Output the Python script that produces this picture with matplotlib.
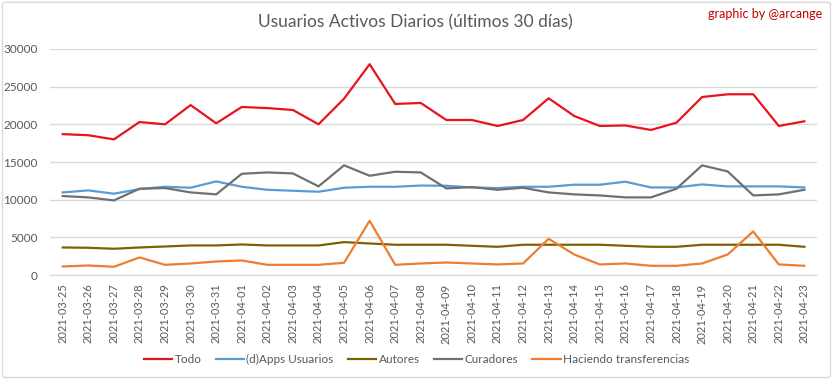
import matplotlib.pyplot as plt
from matplotlib.patches import FancyBboxPatch

# Datos
fechas = ["2021-03-25", "2021-03-26", "2021-03-27", "2021-03-28", "2021-03-29",
          "2021-03-30", "2021-03-31", "2021-04-01", "2021-04-02", "2021-04-03",
          "2021-04-04", "2021-04-05", "2021-04-06", "2021-04-07", "2021-04-08",
          "2021-04-09", "2021-04-10", "2021-04-11", "2021-04-12", "2021-04-13",
          "2021-04-14", "2021-04-15", "2021-04-16", "2021-04-17", "2021-04-18",
          "2021-04-19", "2021-04-20", "2021-04-21", "2021-04-22", "2021-04-23"]

todo = [18700, 18550, 18000, 20300, 20000, 22550, 20130, 22300, 22150, 21900,
        20000, 23400, 27970, 22700, 22830, 20570, 20570, 19780, 20570, 23450,
        21100, 19780, 19850, 19250, 20220, 23620, 23980, 23980, 19780, 20400]

dapps = [10970, 11240, 10800, 11410, 11720, 11590, 12430, 11720, 11320, 11190,
         11060, 11590, 11720, 11720, 11880, 11850, 11630, 11540, 11720, 11720,
         11990, 11990, 12390, 11630, 11630, 12030, 11770, 11770, 11770, 11630]

autores = [3670, 3630, 3500, 3670, 3800, 3940, 3940, 4070, 3940, 3940,
           3940, 4380, 4200, 4030, 4030, 4030, 3890, 3760, 4030, 4030,
           4030, 4030, 3890, 3760, 3760, 4030, 4030, 4030, 4030, 3760]

curadores = [10490, 10310, 9910, 11460, 11550, 10970, 10710, 13440, 13620, 13490,
             11770, 14560, 13180, 13710, 13620, 11500, 11680, 11320, 11590, 10970,
             10710, 10570, 10310, 10310, 11460, 14560, 13750, 10570, 10710, 11320]

transferencias = [1150, 1280, 1110, 2350, 1370, 1550, 1810, 1950, 1370, 1370,
                  1370, 1640, 7210, 1370, 1550, 1680, 1550, 1420, 1550, 4820,
                  2740, 1420, 1550, 1240, 1240, 1550, 2740, 5800, 1420, 1240]

series = [
    ("Todo", todo, "#e8141b"),
    ("(d)Apps Usuarios", dapps, "#5b9bd5"),
    ("Autores", autores, "#7f6000"),
    ("Curadores", curadores, "#707070"),
    ("Haciendo transferencias", transferencias, "#ed7d31"),
]

plt.rcParams['font.family'] = ['Lato', 'DejaVu Sans']
gris = "#595959"

fig = plt.figure(figsize=(8.33, 3.79), dpi=100)
ax = fig.add_axes([0.060, 0.274, 0.921, 0.597])

x = range(len(fechas))
for nombre, valores, color in series:
    ax.plot(x, valores, color=color, linewidth=1.6, label=nombre)

ax.set_xlim(-0.5, len(fechas) - 0.5)
ax.set_ylim(0, 30000)
ax.set_yticks(range(0, 30001, 5000))
ax.set_xticks(list(x))
ax.set_xticklabels(fechas, rotation=90, fontsize=8, color=gris)
ax.tick_params(axis='y', labelsize=8.5, labelcolor=gris, length=0, pad=9)
ax.tick_params(axis='x', length=0, pad=6)
ax.grid(axis='y', color="#d9d9d9", linewidth=1)
ax.set_axisbelow(True)
for s in ["top", "right", "left"]:
    ax.spines[s].set_visible(False)
ax.spines["bottom"].set_color("#d9d9d9")

fig.text(0.499, 0.94, "Usuarios Activos Diarios (últimos 30 días)",
         ha="center", va="center", fontsize=12.5, color=gris)
fig.text(0.987, 0.963, "graphic by @arcange", ha="right", va="center",
         fontsize=9, color="#c00000")

leg = fig.legend(loc="center", bbox_to_anchor=(0.5, 0.052), ncol=5, frameon=False,
                 fontsize=8.5, handlelength=2.4, columnspacing=1.2, handletextpad=0.2)
for t in leg.get_texts():
    t.set_color(gris)

borde = FancyBboxPatch((0.003, 0.004), 0.994, 0.99, boxstyle="round,pad=0,rounding_size=0.005",
                       transform=fig.transFigure, fill=False, edgecolor="#d9d9d9", linewidth=1)
fig.patches.append(borde)

fig.savefig("out.png", dpi=100)
plt.close(fig)
